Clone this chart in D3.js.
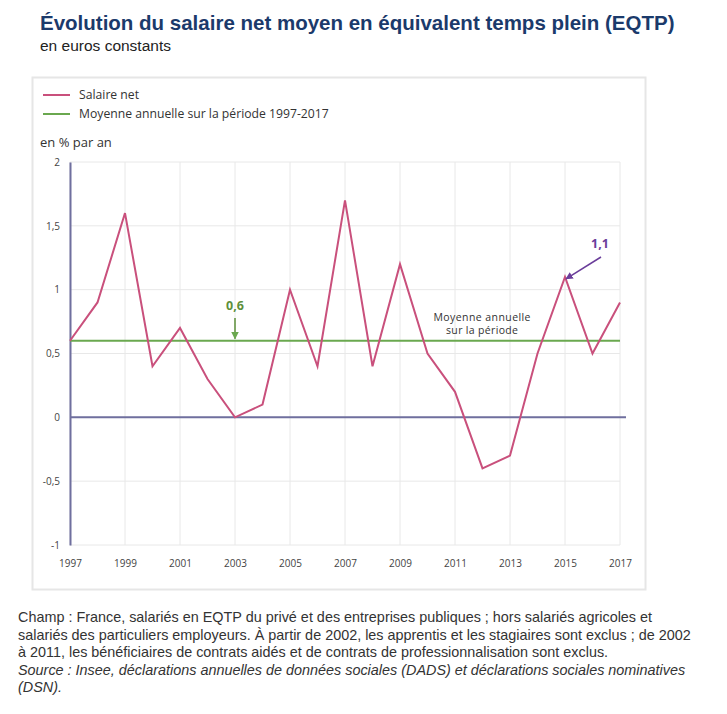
<!DOCTYPE html>
<html><head><meta charset="utf-8">
<script src="https://cdn.jsdelivr.net/npm/d3@7"></script>
<style>
body{margin:0;background:#fff;}
svg{display:block;}
</style></head>
<body>
<svg id="c" width="727" height="714"></svg>
<script>
const years = [1997,1998,1999,2000,2001,2002,2003,2004,2005,2006,2007,2008,2009,2010,2011,2012,2013,2014,2015,2016,2017];
const salaireNet = [0.6,0.9,1.6,0.4,0.7,0.3,0.0,0.1,1.0,0.4,1.7,0.4,1.2,0.5,0.2,-0.4,-0.3,0.5,1.1,0.5,0.9];
const moyenne = 0.6;
const yTicks = [-1,-0.5,0,0.5,1,1.5,2];
const xTicks = [1997,1999,2001,2003,2005,2007,2009,2011,2013,2015,2017];
const legendLabels = ["Salaire net","Moyenne annuelle sur la période 1997-2017"];
const title = "Évolution du salaire net moyen en équivalent temps plein (EQTP)";
const subtitle = "en euros constants";
const footer = [
 "Champ : France, salariés en EQTP du privé et des entreprises publiques ; hors salariés agricoles et",
 "salariés des particuliers employeurs. À partir de 2002, les apprentis et les stagiaires sont exclus ; de 2002",
 "à 2011, les bénéficiaires de contrats aidés et de contrats de professionnalisation sont exclus."
];
const source = ["Source : Insee, déclarations annuelles de données sociales (DADS) et déclarations sociales nominatives","(DSN)."];

const svg = d3.select("#c");
const fmt = v => String(v).replace(".", ",");
const pink = "#c9507c", green = "#6aa84f", axisCol = "#6f6f9e", purple = "#6a3d9a";

// Title
svg.append("text").attr("x",40).attr("y",30).attr("fill","#1b3a6b")
  .attr("font-family","Liberation Sans, Arial, sans-serif").attr("font-weight","bold").attr("font-size",20.5).text(title);
svg.append("text").attr("x",40).attr("y",51).attr("fill","#222")
  .attr("font-family","Liberation Sans, Arial, sans-serif").attr("font-size",15.5).text(subtitle);

// panel
svg.append("rect").attr("x",32.5).attr("y",77.5).attr("width",613).attr("height",512)
  .attr("fill","#fff").attr("stroke","#e6e6e6").attr("stroke-width",2);

const x = d3.scaleLinear().domain([1997,2017]).range([70,620]);
const y = d3.scaleLinear().domain([-1,2]).range([545,162]);

// Legend
const lg = svg.append("g").attr("font-family","Open Sans, sans-serif").attr("font-size",12.2).attr("fill","#333");
[[pink,legendLabels[0],95],[green,legendLabels[1],114]].forEach(([c,t,yy])=>{
  lg.append("line").attr("x1",43).attr("x2",70).attr("y1",yy).attr("y2",yy).attr("stroke",c).attr("stroke-width",2);
  lg.append("text").attr("x",79).attr("y",yy+4).text(t);
});
svg.append("text").attr("x",40).attr("y",147).attr("font-family","Open Sans, sans-serif").attr("font-size",13).attr("fill","#333").text("en % par an");

// grid
const g = svg.append("g");
g.selectAll(".hg").data(yTicks).join("line").attr("x1",70).attr("x2",620)
  .attr("y1",d=>y(d)).attr("y2",d=>y(d)).attr("stroke","#e8e8e8").attr("stroke-width",1);
g.selectAll(".vg").data(xTicks).join("line").attr("x1",d=>x(d)).attr("x2",d=>x(d))
  .attr("y1",y(2)).attr("y2",y(-1)).attr("stroke","#e8e8e8").attr("stroke-width",1);

// axes via d3
const ya = svg.append("g").attr("transform","translate(70,0)")
  .call(d3.axisLeft(y).tickValues(yTicks).tickSize(0).tickPadding(10).tickFormat(fmt));
ya.select(".domain").attr("stroke",axisCol).attr("stroke-width",2);
ya.selectAll("text").attr("font-family","Open Sans, sans-serif").attr("font-size",10).attr("fill","#444");
const xa = svg.append("g").attr("transform","translate(0,"+y(-1)+")")
  .call(d3.axisBottom(x).tickValues(xTicks).tickSize(0).tickPadding(15).tickFormat(d3.format("d")));
xa.select(".domain").remove();
xa.selectAll("text").attr("font-family","Open Sans, sans-serif").attr("font-size",10).attr("fill","#444");

// zero line
svg.append("line").attr("x1",70).attr("x2",626).attr("y1",y(0)).attr("y2",y(0)).attr("stroke",axisCol).attr("stroke-width",2);

// mean line
svg.append("line").attr("x1",70).attr("x2",620).attr("y1",y(moyenne)).attr("y2",y(moyenne)).attr("stroke",green).attr("stroke-width",2);

// series
const line = d3.line().x((d,i)=>x(years[i])).y(d=>y(d));
svg.append("path").datum(salaireNet).attr("d",line).attr("fill","none").attr("stroke",pink).attr("stroke-width",2).attr("stroke-linejoin","miter");

// annotations
const defs = svg.append("defs");
[["ag",green],["ap",purple]].forEach(([id,c])=>{
  defs.append("marker").attr("id",id).attr("viewBox","0 0 10 10").attr("refX",9).attr("refY",5)
    .attr("markerWidth",5).attr("markerHeight",5).attr("orient","auto")
    .append("path").attr("d","M0,0L10,5L0,10z").attr("fill",c);
});
svg.append("text").attr("x",x(2003)).attr("y",310).attr("text-anchor","middle").attr("fill","#5d8f3a")
  .attr("font-family","Open Sans, sans-serif").attr("font-weight","bold").attr("font-size",12.5).text(fmt(moyenne));
svg.append("line").attr("x1",x(2003)).attr("x2",x(2003)).attr("y1",318).attr("y2",y(moyenne)-2)
  .attr("stroke","#5d8f3a").attr("stroke-width",1.5).attr("marker-end","url(#ag)");

const v2015 = salaireNet[years.indexOf(2015)];
svg.append("text").attr("x",600).attr("y",248).attr("text-anchor","middle").attr("fill",purple)
  .attr("font-family","Open Sans, sans-serif").attr("font-weight","bold").attr("font-size",12.5).text(fmt(v2015));
svg.append("line").attr("x1",601).attr("x2",x(2015)+1).attr("y1",257).attr("y2",y(v2015)+2)
  .attr("stroke",purple).attr("stroke-width",1.5).attr("marker-end","url(#ap)");

const mt = svg.append("g").attr("font-family","Open Sans, sans-serif").attr("font-size",10.5).attr("fill","#333").attr("text-anchor","middle");
mt.append("text").attr("x",482).attr("y",321).attr("textLength",97).text("Moyenne annuelle");
mt.append("text").attr("x",482).attr("y",334).attr("textLength",72).text("sur la période");

// footer
const ft = svg.append("g").attr("font-family","Liberation Sans, Arial, sans-serif").attr("font-size",14.4).attr("fill","#333");
footer.forEach((t,i)=>ft.append("text").attr("x",18).attr("y",622+i*17.5).text(t));
source.forEach((t,i)=>ft.append("text").attr("x",18).attr("y",674.5+i*17.5).attr("font-style","italic").text(t));
</script>
</body></html>
